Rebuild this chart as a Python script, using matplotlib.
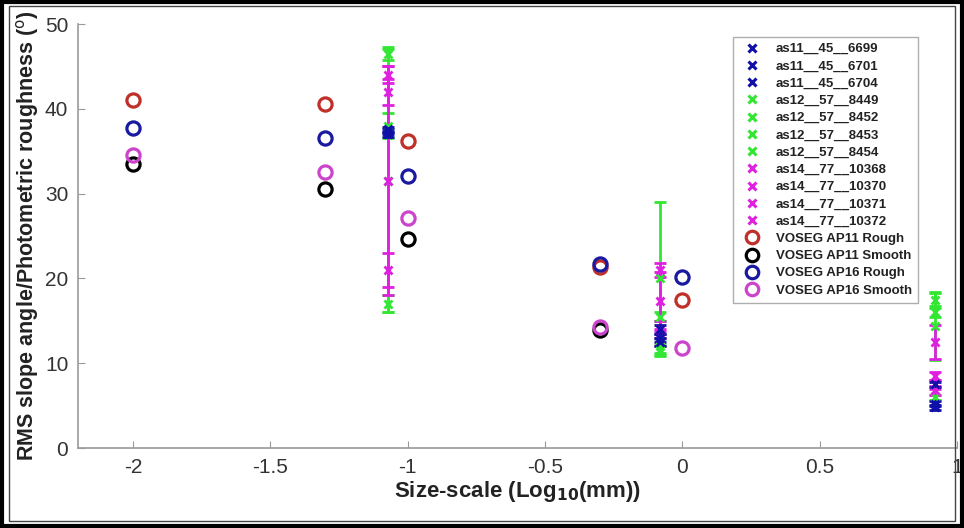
import numpy as np
import matplotlib
matplotlib.use("Agg")
import matplotlib.pyplot as plt
from matplotlib.lines import Line2D
from matplotlib.patches import Rectangle

plt.rcParams['font.family'] = ['Liberation Sans', 'DejaVu Sans']

# size-scales of the rover measurements (log10 mm)
bar_x = [-1.07, -0.08, 0.92]

sample_names = ['as11__45__6699', 'as11__45__6701', 'as11__45__6704',
                'as12__57__8449', 'as12__57__8452', 'as12__57__8453', 'as12__57__8454',
                'as14__77__10368', 'as14__77__10370', 'as14__77__10371', 'as14__77__10372']
sample_colors = ['#1010a8'] * 3 + ['#33e633'] * 4 + ['#e020e0'] * 4

sample_vals = [
    [37.3, 14.0, 7.5],
    [37.0, 13.0, 5.2],
    [37.6, 12.5, 4.8],
    [46.5, 20.0, 17.5],
    [31.5, 15.5, 14.4],
    [38.0, 11.5, 16.0],
    [17.0, 12.0, 6.0],
    [44.0, 21.0, 12.5],
    [42.0, 17.3, 8.5],
    [31.5, 14.0, 7.5],
    [21.0, 13.0, 6.8],
]
sample_errs = [
    [0.3, 0.5, 0.3],
    [0.3, 0.5, 0.3],
    [0.3, 0.5, 0.3],
    [0.8, 9.0, 0.8],
    [15.5, 0.5, 4.0],
    [1.5, 0.6, 0.5],
    [1.0, 0.8, 0.3],
    [1.0, 0.8, 2.0],
    [1.5, 3.5, 0.5],
    [13.5, 1.0, 0.5],
    [2.0, 1.0, 0.5],
]

# VOSEG photometric roughness
voseg_x = [-2, -1.3, -1, -0.3, 0]
ap11_rough = [41.0, 40.6, 36.2, 21.3, 17.4]
ap11_smooth = [33.5, 30.6, 24.6, 13.9, np.nan]
ap16_rough = [37.7, 36.5, 32.1, 21.7, 20.2]
ap16_smooth = [34.5, 32.5, 27.1, 14.3, 11.8]

voseg_names = ['VOSEG AP11 Rough', 'VOSEG AP11 Smooth', 'VOSEG AP16 Rough', 'VOSEG AP16 Smooth']
voseg_colors = ['#c0302a', '#000000', '#1a1aa0', '#cc44cc']

fig = plt.figure(figsize=(9.64, 5.28), dpi=100)
ax = fig.add_axes([78 / 964, 1 - 448 / 528, (957 - 78) / 964, (448 - 24) / 528])

handles = []
order = list(range(3, 7)) + list(range(7, 11)) + list(range(0, 3))
for i in order:
    ax.errorbar(bar_x, sample_vals[i], yerr=sample_errs[i], fmt='x', color=sample_colors[i],
                ecolor=sample_colors[i], ms=6, mew=2, elinewidth=2, capsize=4, capthick=1.5)
for i in range(len(sample_names)):
    handles.append(Line2D([], [], ls='none', marker='x', ms=6, mew=2.2,
                          color=sample_colors[i], label=sample_names[i]))

for vals, c, name in zip([ap11_rough, ap11_smooth, ap16_rough, ap16_smooth], voseg_colors, voseg_names):
    ax.plot(voseg_x, vals, ls='none', marker='o', ms=9.5, mew=2.3, mfc='none', mec=c, zorder=5)
    handles.append(Line2D([], [], ls='none', marker='o', ms=9, mew=2.3, mfc='none', mec=c, label=name))

ax.set_xlim(-2.2, 1)
ax.set_ylim(0, 50)
ax.set_xticks([-2, -1.5, -1, -0.5, 0, 0.5, 1])
ax.set_xticklabels(['-2', '-1.5', '-1', '-0.5', '0', '0.5', '1'])
ax.set_yticks([0, 10, 20, 30, 40, 50])
for s in ['top', 'right']:
    ax.spines[s].set_visible(False)
for s in ['left', 'bottom']:
    ax.spines[s].set_color('#9a9a9a')
    ax.spines[s].set_linewidth(1.2)
ax.tick_params(direction='in', length=5, color='#9a9a9a', labelsize=15, labelcolor='#333333', pad=7)

ax.set_xlabel('Size-scale (Log$_{\\mathbf{10}}$(mm))', fontsize=16, fontweight='bold', color='#222222', labelpad=2)
ax.set_ylabel('RMS slope angle/Photometric roughness ($^{\\mathrm{o}}$)', fontsize=15.5,
              fontweight='bold', color='#222222', labelpad=3)

leg = ax.legend(handles=handles, loc='upper right', bbox_to_anchor=((918 - 78) / 879, (448 - 37) / 424),
                prop={'weight': 'bold', 'size': 9.5}, frameon=True, fancybox=False,
                edgecolor='#9a9a9a', handlelength=2.0, handletextpad=0.8, labelspacing=0.38,
                borderpad=0.45, borderaxespad=0)
leg.get_frame().set_linewidth(1.0)
for t in leg.get_texts():
    t.set_color('#222222')

# picture frame around the whole figure
fig.patches.append(Rectangle((0.002, 0.003), 0.996, 0.994, transform=fig.transFigure,
                             fill=False, edgecolor='black', linewidth=3))
fig.patches.append(Rectangle((0.009, 0.013), 0.982, 0.975, transform=fig.transFigure,
                             fill=False, edgecolor='#444444', linewidth=1))

fig.savefig('out.png', dpi=100)
